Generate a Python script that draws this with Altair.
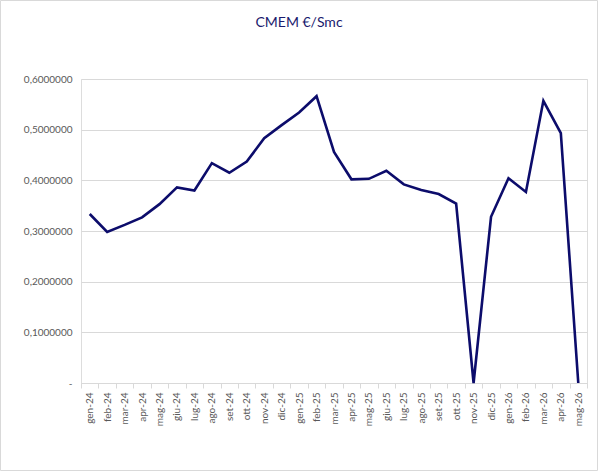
import altair as alt
import pandas as pd

months = ["gen-24", "feb-24", "mar-24", "apr-24", "mag-24", "giu-24", "lug-24",
          "ago-24", "set-24", "ott-24", "nov-24", "dic-24",
          "gen-25", "feb-25", "mar-25", "apr-25", "mag-25", "giu-25", "lug-25",
          "ago-25", "set-25", "ott-25", "nov-25", "dic-25",
          "gen-26", "feb-26", "mar-26", "apr-26", "mag-26"]
cmem = [0.3336, 0.2980, 0.3120, 0.3270, 0.3530, 0.3860, 0.3800,
        0.4340, 0.4150, 0.4370, 0.4830, 0.5090,
        0.5340, 0.5660, 0.4560, 0.4020, 0.4030, 0.4190, 0.3920,
        0.3810, 0.3730, 0.3540, 0.0, 0.3280,
        0.4040, 0.3770, 0.5570, 0.4930, 0.0]

df = pd.DataFrame({"mese": months, "cmem": cmem})

FONT = "Lato"
GRAY = "#595959"
GRID = "#d9d9d9"

base = alt.Chart(df)

line = base.mark_line(color="#0c0c6b", strokeWidth=2.6, strokeJoin="miter").encode(
    x=alt.X("mese:O", sort=None,
            scale=alt.Scale(type="band", paddingInner=0, paddingOuter=0),
            axis=alt.Axis(title=None, labelAngle=-90, labelAlign="right",
                          labelBaseline="middle", labelPadding=4,
                          labelColor=GRAY, labelFont=FONT, labelFontSize=10,
                          domainColor=GRID, tickColor=GRID, tickSize=5,
                          tickBand="extent", grid=False)),
    y=alt.Y("cmem:Q", scale=alt.Scale(domain=[0, 0.6], nice=False),
            axis=alt.Axis(title=None, values=[0, 0.1, 0.2, 0.3, 0.4, 0.5, 0.6],
                          labelExpr="datum.value == 0 ? '-' : replace(format(datum.value, '.7f'), '.', ',')",
                          labelColor=GRAY, labelFont=FONT, labelFontSize=10,
                          labelPadding=9, ticks=False, domain=False,
                          gridColor=GRID, gridWidth=1)),
)

border = alt.Chart(pd.DataFrame({"k": [0]})).mark_rect(
    fill=None, stroke=GRID, strokeWidth=1
).encode(
    x=alt.value(-80.5), x2=alt.value(516.5), y=alt.value(-78.5), y2=alt.value(391.5)
)

chart = alt.layer(border, line).properties(
    width=506, height=304,
    title=alt.TitleParams("CMEM €/Smc", font=FONT, fontSize=14, fontWeight="normal",
                          color="#1a1a6e", anchor="middle", baseline="middle",
                          offset=-37, dx=-35),
    autosize=alt.AutoSizeParams(type="none"),
    padding={"left": 81, "top": 79, "right": 13, "bottom": 89},
).configure_view(stroke=None).configure(background="white")

chart.save("out.html", embed_options={"renderer": "svg", "actions": False})
